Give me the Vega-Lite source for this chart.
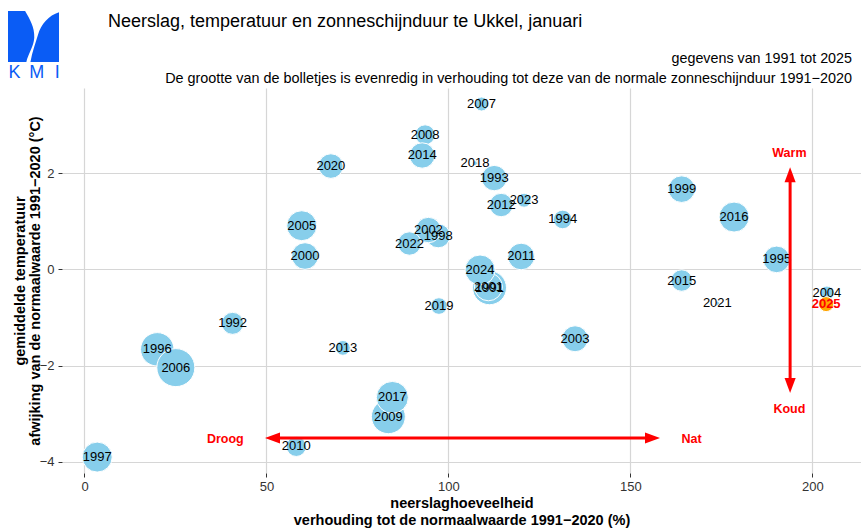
{
  "$schema": "https://vega.github.io/schema/vega-lite/v6.json",
  "width": 799,
  "height": 385,
  "autosize": {"type": "none"},
  "padding": {"left": 62, "top": 88, "right": 0, "bottom": 57},
  "background": "white",
  "config": {
    "font": "Liberation Sans",
    "view": {"stroke": null},
    "axis": {
      "domain": false, "grid": true, "gridColor": "#d6d6d6", "gridWidth": 1.2,
      "tickColor": "#333333", "tickSize": 4, "labelFontSize": 13, "labelColor": "#333333",
      "titleFontSize": 14.5, "titleFontWeight": "bold", "titleColor": "black",
      "labelFont": "Liberation Sans", "titleFont": "Liberation Sans"
    }
  },
  "data": {"values": [
    {"jaar": 1991, "neerslag": 111.3, "temp": -0.38, "zon": 200},
    {"jaar": 1992, "neerslag": 40.7, "temp": -1.12, "zon": 84},
    {"jaar": 1993, "neerslag": 112.6, "temp": 1.90, "zon": 112},
    {"jaar": 1994, "neerslag": 131.4, "temp": 1.04, "zon": 60},
    {"jaar": 1995, "neerslag": 190.2, "temp": 0.21, "zon": 123},
    {"jaar": 1996, "neerslag": 20.0, "temp": -1.66, "zon": 194},
    {"jaar": 1997, "neerslag": 3.5, "temp": -3.90, "zon": 156},
    {"jaar": 1998, "neerslag": 97.2, "temp": 0.70, "zon": 100},
    {"jaar": 1999, "neerslag": 164.1, "temp": 1.67, "zon": 123},
    {"jaar": 2000, "neerslag": 60.6, "temp": 0.28, "zon": 123},
    {"jaar": 2001, "neerslag": 111.0, "temp": -0.36, "zon": 136},
    {"jaar": 2002, "neerslag": 94.5, "temp": 0.82, "zon": 112},
    {"jaar": 2003, "neerslag": 134.8, "temp": -1.44, "zon": 117},
    {"jaar": 2004, "neerslag": 204.0, "temp": -0.49, "zon": 34},
    {"jaar": 2005, "neerslag": 59.7, "temp": 0.91, "zon": 156},
    {"jaar": 2006, "neerslag": 25.1, "temp": -2.04, "zon": 251},
    {"jaar": 2007, "neerslag": 109.1, "temp": 3.44, "zon": 34},
    {"jaar": 2008, "neerslag": 93.6, "temp": 2.80, "zon": 69},
    {"jaar": 2009, "neerslag": 83.5, "temp": -3.06, "zon": 200},
    {"jaar": 2010, "neerslag": 58.2, "temp": -3.68, "zon": 69},
    {"jaar": 2011, "neerslag": 120.0, "temp": 0.27, "zon": 123},
    {"jaar": 2012, "neerslag": 114.5, "temp": 1.34, "zon": 95},
    {"jaar": 2013, "neerslag": 71.0, "temp": -1.63, "zon": 38},
    {"jaar": 2014, "neerslag": 92.8, "temp": 2.37, "zon": 112},
    {"jaar": 2015, "neerslag": 164.1, "temp": -0.23, "zon": 80},
    {"jaar": 2016, "neerslag": 178.5, "temp": 1.09, "zon": 156},
    {"jaar": 2017, "neerslag": 84.6, "temp": -2.66, "zon": 178},
    {"jaar": 2018, "neerslag": 107.3, "temp": 2.21, "zon": 4},
    {"jaar": 2019, "neerslag": 97.4, "temp": -0.76, "zon": 48},
    {"jaar": 2020, "neerslag": 67.7, "temp": 2.15, "zon": 105},
    {"jaar": 2021, "neerslag": 173.9, "temp": -0.70, "zon": 3},
    {"jaar": 2022, "neerslag": 89.3, "temp": 0.54, "zon": 95},
    {"jaar": 2023, "neerslag": 120.8, "temp": 1.44, "zon": 34},
    {"jaar": 2024, "neerslag": 108.7, "temp": -0.01, "zon": 156},
    {"jaar": 2025, "neerslag": 203.8, "temp": -0.72, "zon": 39}
  ]},
  "layer": [
    {
      "mark": {"type": "circle", "opacity": 1, "stroke": "white", "strokeWidth": 1},
      "encoding": {
        "x": {"field": "neerslag", "type": "quantitative",
              "scale": {"domain": [-6.18, 213.38], "nice": false, "zero": false},
              "axis": {"values": [0, 50, 100, 150, 200], "labelPadding": 3, "titlePadding": 3, "titleLineHeight": 17,
                       "title": ["neerslaghoeveelheid", "verhouding tot de normaalwaarde 1991−2020 (%)"]}},
        "y": {"field": "temp", "type": "quantitative",
              "scale": {"domain": [-4.231, 3.773], "nice": false, "zero": false},
              "axis": {"values": [-4, -2, 0, 2], "labelPadding": 4, "titlePadding": -3, "titleLineHeight": 15,
                       "title": ["gemiddelde temperatuur", "afwijking van de normaalwaarde 1991−2020 (°C)"]}},
        "size": {"field": "zon", "type": "quantitative", "scale": {"domain": [0, 250], "range": [0, 1440]}, "legend": null},
        "fill": {"condition": {"test": "datum.jaar === 2025", "value": "#FFA500"}, "value": "#87CEEB"}
      }
    },
    {
      "transform": [{"filter": "datum.jaar !== 2025"}],
      "mark": {"type": "text", "fontSize": 13, "color": "black", "baseline": "middle"},
      "encoding": {
        "x": {"field": "neerslag", "type": "quantitative"},
        "y": {"field": "temp", "type": "quantitative"},
        "text": {"field": "jaar", "type": "nominal"}
      }
    },
    {
      "transform": [{"filter": "datum.jaar === 2025"}],
      "mark": {"type": "text", "fontSize": 13, "fontWeight": "bold", "color": "#FF0000", "baseline": "middle"},
      "encoding": {
        "x": {"field": "neerslag", "type": "quantitative"},
        "y": {"field": "temp", "type": "quantitative"},
        "text": {"field": "jaar", "type": "nominal"}
      }
    },
    {
      "data": {"values": [{}]},
      "mark": {"type": "rule", "color": "#FF0000", "strokeWidth": 3},
      "encoding": {"x": {"datum": 52.4}, "x2": {"datum": 155.4}, "y": {"datum": -3.503}}
    },
    {
      "data": {"values": [{}]},
      "mark": {"type": "rule", "color": "#FF0000", "strokeWidth": 3},
      "encoding": {"x": {"datum": 193.9}, "y": {"datum": 1.93}, "y2": {"datum": -2.37}}
    },
    {
      "data": {"values": [{}]},
      "mark": {"type": "point", "shape": "M 0 0 L -1 -0.37 L -1 0.37 Z", "filled": true, "color": "#FF0000", "opacity": 1, "size": 900, "angle": 180},
      "encoding": {"x": {"datum": 49.6}, "y": {"datum": -3.503}}
    },
    {
      "data": {"values": [{}]},
      "mark": {"type": "point", "shape": "M 0 0 L -1 -0.37 L -1 0.37 Z", "filled": true, "color": "#FF0000", "opacity": 1, "size": 900, "angle": 0},
      "encoding": {"x": {"datum": 158.15}, "y": {"datum": -3.503}}
    },
    {
      "data": {"values": [{}]},
      "mark": {"type": "point", "shape": "M 0 0 L -1 -0.37 L -1 0.37 Z", "filled": true, "color": "#FF0000", "opacity": 1, "size": 900, "angle": 270},
      "encoding": {"x": {"datum": 193.9}, "y": {"datum": 2.125}}
    },
    {
      "data": {"values": [{}]},
      "mark": {"type": "point", "shape": "M 0 0 L -1 -0.37 L -1 0.37 Z", "filled": true, "color": "#FF0000", "opacity": 1, "size": 900, "angle": 90},
      "encoding": {"x": {"datum": 193.9}, "y": {"datum": -2.568}}
    },
    {
      "data": {"values": [{}]},
      "mark": {"type": "text", "text": "Droog", "fontSize": 12.5, "fontWeight": "bold", "color": "#FF0000", "baseline": "middle"},
      "encoding": {"x": {"datum": 38.7}, "y": {"datum": -3.52}}
    },
    {
      "data": {"values": [{}]},
      "mark": {"type": "text", "text": "Nat", "fontSize": 12.5, "fontWeight": "bold", "color": "#FF0000", "baseline": "middle"},
      "encoding": {"x": {"datum": 166.8}, "y": {"datum": -3.52}}
    },
    {
      "data": {"values": [{}]},
      "mark": {"type": "text", "text": "Warm", "fontSize": 12.5, "fontWeight": "bold", "color": "#FF0000", "baseline": "middle"},
      "encoding": {"x": {"datum": 193.7}, "y": {"datum": 2.43}}
    },
    {
      "data": {"values": [{}]},
      "mark": {"type": "text", "text": "Koud", "fontSize": 12.5, "fontWeight": "bold", "color": "#FF0000", "baseline": "middle"},
      "encoding": {"x": {"datum": 193.7}, "y": {"datum": -2.9}}
    },
    {
      "data": {"values": [{}]},
      "mark": {"type": "text", "text": "Neerslag, temperatuur en zonneschijnduur te Ukkel, januari", "fontSize": 18, "color": "black", "align": "left", "baseline": "alphabetic"},
      "encoding": {"x": {"datum": 6.46}, "y": {"datum": 5.035}}
    },
    {
      "data": {"values": [{}]},
      "mark": {"type": "text", "text": "gegevens van 1991 tot 2025", "fontSize": 14.3, "color": "black", "align": "right", "baseline": "alphabetic"},
      "encoding": {"x": {"datum": 210.9}, "y": {"datum": 4.293}}
    },
    {
      "data": {"values": [{}]},
      "mark": {"type": "text", "text": "De grootte van de bolletjes is evenredig in verhouding tot deze van de normale zonneschijnduur 1991−2020", "fontSize": 14.4, "color": "black", "align": "right", "baseline": "alphabetic"},
      "encoding": {"x": {"datum": 210.9}, "y": {"datum": 3.877}}
    },
    {
      "data": {"values": [{}]},
      "mark": {"type": "point", "shape": "M -1 -1 L -0.33 -1 C -0.15 -0.7 0.05 -0.35 0.03 0.05 C 0.01 0.4 -0.22 0.7 -0.28 1 L -1 1 Z M 1 -0.95 L 1 1 L -0.12 1 C -0.05 0.6 0.08 0.25 0.17 -0.05 C 0.3 -0.5 0.6 -0.82 1 -0.95 Z", "filled": true, "color": "#0a5cf5", "opacity": 1, "size": 2601},
      "encoding": {"x": {"datum": -14.01}, "y": {"datum": 4.844}}
    },
    {
      "data": {"values": [{}]},
      "mark": {"type": "text", "text": "K", "fontSize": 18, "color": "#0a5cf5", "align": "center", "baseline": "alphabetic"},
      "encoding": {"x": {"datum": -19.24}, "y": {"datum": 3.988}}
    },
    {
      "data": {"values": [{}]},
      "mark": {"type": "text", "text": "M", "fontSize": 18, "color": "#0a5cf5", "align": "center", "baseline": "alphabetic"},
      "encoding": {"x": {"datum": -13.14}, "y": {"datum": 3.988}}
    },
    {
      "data": {"values": [{}]},
      "mark": {"type": "text", "text": "I", "fontSize": 18, "color": "#0a5cf5", "align": "center", "baseline": "alphabetic"},
      "encoding": {"x": {"datum": -7.5}, "y": {"datum": 3.988}}
    }
  ]
}
